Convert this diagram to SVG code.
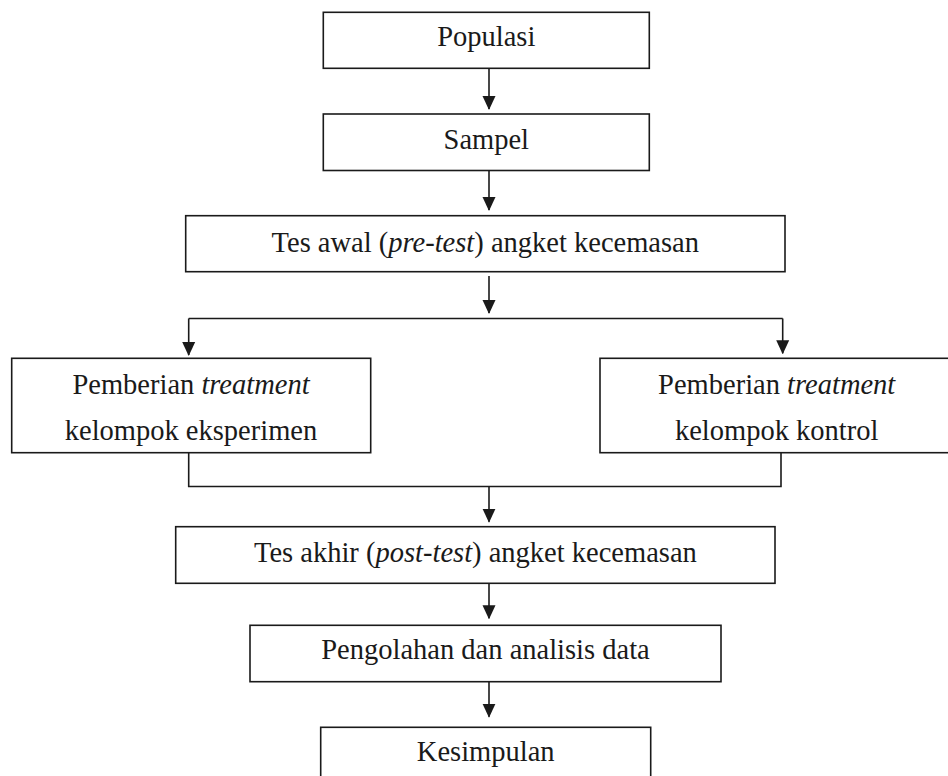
<svg xmlns="http://www.w3.org/2000/svg" width="948" height="776" viewBox="0 0 948 776">
<style>
.box{fill:#fff;stroke:#1a1a1a;stroke-width:1.6}
.t{font-family:"Liberation Serif","Times New Roman",serif;font-size:28.5px;fill:#1a1a1a;text-anchor:middle}
.c{fill:none;stroke:#1a1a1a;stroke-width:1.6}
.a{marker-end:url(#ah)}
</style>
<defs>
<marker id="ah" markerUnits="userSpaceOnUse" markerWidth="14" markerHeight="14" viewBox="0 0 14 14" refX="13" refY="7" orient="auto">
<path d="M0,0.5 L14,7 L0,13.5 Z" fill="#1a1a1a"/>
</marker>
</defs>
<rect width="948" height="776" fill="#fff"/>
<g id="connectors">
<path class="c a" d="M489,68.3 V109"/>
<path class="c a" d="M489,170.5 V210"/>
<path class="c a" d="M489,276 V313"/>
<path class="c" d="M188.7,318.5 H782.7"/>
<path class="c a" d="M188.7,318.5 V355"/>
<path class="c a" d="M782.7,318.5 V353.3"/>
<path class="c" d="M188.7,452.7 V486.5 H781 V452.7"/>
<path class="c a" d="M489,486.5 V521.7"/>
<path class="c a" d="M489,580 V618.3"/>
<path class="c a" d="M489,679.3 V716.7"/>
</g>
<g id="populasi">
<rect class="box" x="323.3" y="12.3" width="326" height="56"/>
<text class="t" x="486.3" y="46">Populasi</text>
</g>
<g id="sampel">
<rect class="box" x="323.3" y="114" width="326" height="56.5"/>
<text class="t" x="486.3" y="149">Sampel</text>
</g>
<g id="pretest">
<rect class="box" x="185.7" y="215.7" width="599.3" height="56"/>
<text class="t" x="485.3" y="251.7">Tes awal (<tspan font-style="italic">pre-test</tspan>) angket kecemasan</text>
</g>
<g id="eksperimen">
<rect class="box" x="11.7" y="358.3" width="359" height="94.4"/>
<text class="t" x="191" y="394">Pemberian <tspan font-style="italic">treatment</tspan></text>
<text class="t" x="191" y="440">kelompok eksperimen</text>
</g>
<g id="kontrol">
<rect class="box" x="600" y="358.3" width="354" height="94.4"/>
<text class="t" x="776.7" y="394">Pemberian <tspan font-style="italic">treatment</tspan></text>
<text class="t" x="776.7" y="440">kelompok kontrol</text>
</g>
<g id="posttest">
<rect class="box" x="175.7" y="526.7" width="599.3" height="56.6"/>
<text class="t" x="475.4" y="561.7">Tes akhir (<tspan font-style="italic">post-test</tspan>) angket kecemasan</text>
</g>
<g id="pengolahan">
<rect class="box" x="250" y="625.3" width="471" height="56.4"/>
<text class="t" x="485.5" y="659.3">Pengolahan dan analisis data</text>
</g>
<g id="kesimpulan">
<rect class="box" x="320.7" y="727.3" width="330" height="60"/>
<text class="t" x="485.7" y="761">Kesimpulan</text>
</g>
</svg>
